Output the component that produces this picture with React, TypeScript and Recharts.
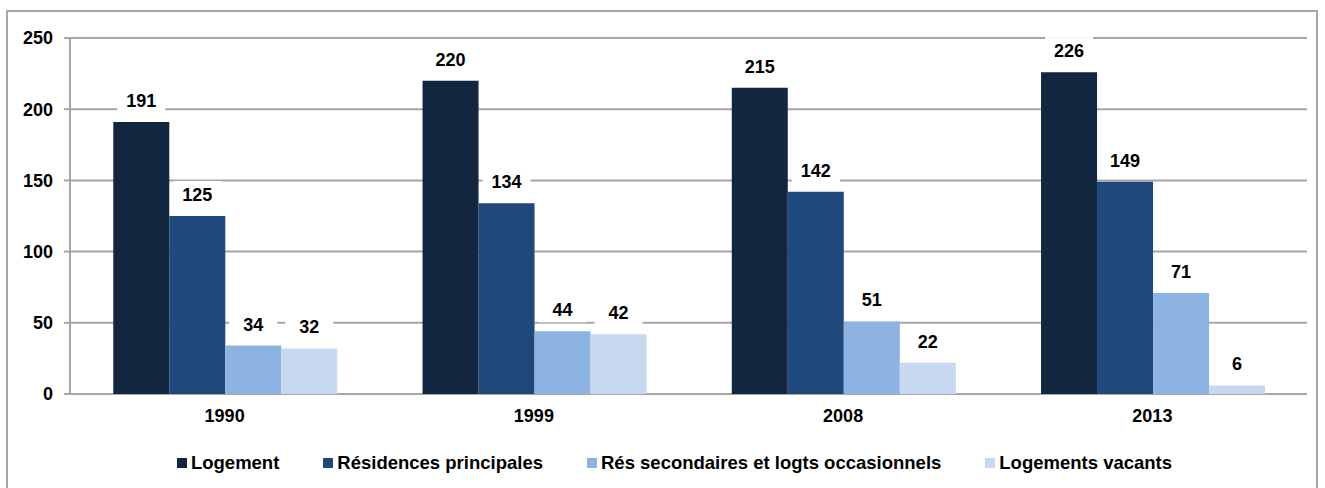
import React from 'react'
import { BarChart, Bar, XAxis, YAxis, CartesianGrid, Legend, LabelList } from 'recharts'

const years = ['1990', '1999', '2008', '2013']
const logement = [191, 220, 215, 226]
const residencesPrincipales = [125, 134, 142, 149]
const residencesSecondaires = [34, 44, 51, 71]
const logementsVacants = [32, 42, 22, 6]
const yTicks = [0, 50, 100, 150, 200, 250]

const series = [
  { key: 'logement', name: 'Logement', color: '#13263f' },
  { key: 'principales', name: 'Résidences principales', color: '#1f487c' },
  { key: 'secondaires', name: 'Rés secondaires et logts occasionnels', color: '#8db3e2' },
  { key: 'vacants', name: 'Logements vacants', color: '#c6d9f1' },
]

const data = years.map((year, i) => ({
  year,
  idx: i + 0.5,
  logement: logement[i],
  principales: residencesPrincipales[i],
  secondaires: residencesSecondaires[i],
  vacants: logementsVacants[i],
}))

const FONT = '"Liberation Sans", Arial, sans-serif'

const ValueLabel = (props: any) => {
  const { x, y, width, value } = props
  const cx = x + width / 2
  return (
    <g>
      <rect x={cx - 24} y={y - 35} width={48} height={26} fill="#fff" />
      <text
        x={cx}
        y={y - 15}
        textAnchor="middle"
        fontFamily={FONT}
        fontWeight="bold"
        fontSize={18}
        fill="#000"
      >
        {value}
      </text>
    </g>
  )
}

const LegendContent = () => (
  <div
    style={{
      display: 'flex',
      justifyContent: 'center',
      gap: 44,
      fontFamily: FONT,
      fontWeight: 'bold',
      fontSize: 18.5,
      color: '#000',
    }}
  >
    {series.map((s) => (
      <div key={s.key} style={{ display: 'flex', alignItems: 'center' }}>
        <span style={{ width: 10, height: 10, background: s.color, marginRight: 4, display: 'inline-block' }} />
        <span>{s.name}</span>
      </div>
    ))}
  </div>
)

export default function App() {
  return (
    <div>
      <div
        style={{
          position: 'absolute',
          left: 6,
          top: 10,
          width: 1312,
          height: 490,
          border: '2px solid #a6a6a6',
          boxSizing: 'border-box',
        }}
      />
      <div style={{ position: 'absolute', left: 0, top: 0 }}>
        <BarChart
          width={1325}
          height={488}
          data={data}
          margin={{ top: 38, right: 18, left: 10, bottom: 34 }}
          barCategoryGap="14%"
          barGap={0}
        >
          <CartesianGrid horizontal vertical={false} stroke="#a6a6a6" strokeWidth={2} />
          <XAxis
            xAxisId="bounds"
            type="number"
            dataKey="idx"
            domain={[0, 4]}
            ticks={[0, 1, 2, 3, 4]}
            tick={false}
            height={0}
            axisLine={{ stroke: '#a6a6a6', strokeWidth: 2 }}
            tickLine={{ stroke: '#a6a6a6', strokeWidth: 2 }}
            tickSize={7}
          />
          <XAxis
            dataKey="year"
            height={30}
            axisLine={false}
            tickLine={false}
            tickMargin={9}
            tick={{ fontFamily: FONT, fontWeight: 'bold', fontSize: 18, fill: '#000' }}
          />
          <YAxis
            width={60}
            domain={[0, 250]}
            ticks={yTicks}
            axisLine={{ stroke: '#a6a6a6', strokeWidth: 2 }}
            tickLine={{ stroke: '#a6a6a6', strokeWidth: 2 }}
            tickSize={6}
            tickMargin={11}
            tick={{ fontFamily: FONT, fontWeight: 'bold', fontSize: 18, fill: '#000' }}
          />
          <Legend
            verticalAlign="bottom"
            height={30}
            wrapperStyle={{ left: 26, bottom: 6 }}
            content={<LegendContent />}
          />
          {series.map((s) => (
            <Bar key={s.key} dataKey={s.key} name={s.name} fill={s.color} isAnimationActive={false}>
              <LabelList dataKey={s.key} content={<ValueLabel />} />
            </Bar>
          ))}
        </BarChart>
      </div>
    </div>
  )
}
